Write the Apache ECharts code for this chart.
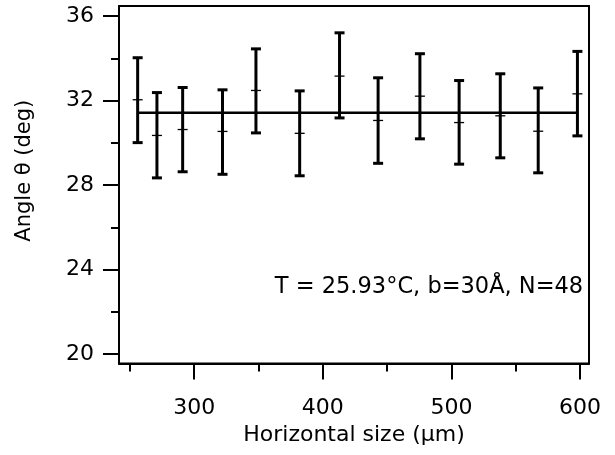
<!DOCTYPE html>
<html>
<head>
<meta charset="utf-8">
<script src="https://cdn.jsdelivr.net/npm/echarts@6/dist/echarts.min.js"></script>
<style>
html,body{margin:0;padding:0;background:#fff;}
#chart{width:615px;height:455px;}
</style>
</head>
<body>
<div id="chart"></div>
<script>
// Data
const sizes   = [256, 271, 291, 322, 348, 382, 413, 443, 475.5, 506, 538, 567.5, 598];
const angles  = [32.04, 30.35, 30.63, 30.54, 32.48, 30.45, 33.16, 31.06, 32.21, 30.96, 31.28, 30.55, 32.32];
const lowErr  = [30.01, 28.34, 28.63, 28.51, 30.47, 28.44, 31.18, 29.03, 30.19, 28.99, 29.29, 28.58, 30.33];
const highErr = [34.03, 32.38, 32.62, 32.51, 34.45, 32.46, 35.21, 33.08, 34.22, 32.95, 33.27, 32.60, 34.33];
const meanAngle = 31.42;
const xMajorTicks = [300, 400, 500, 600];
const xMinorTicks = [250, 350, 450, 550];
const yMajorTicks = [20, 24, 28, 32, 36];
const yMinorTicks = [22, 26, 30, 34];
const annotation = 'T = 25.93°C, b=30Å, N=48';

const FONT = 'DejaVu Sans';
const xMin = 241.5, xMax = 607;
const yMin = 19.55, yMax = 36.48;

const errData = sizes.map((s, i) => [s, angles[i], lowErr[i], highErr[i]]);
const meanData = [[sizes[0], meanAngle], [sizes[sizes.length - 1], meanAngle]];

const chart = echarts.init(document.getElementById('chart'), null, {renderer: 'canvas'});

const baseX = {type: 'value', min: xMin, max: xMax, position: 'bottom', splitLine: {show: false}};
const baseY = {type: 'value', min: yMin, max: yMax, position: 'left', splitLine: {show: false}};

chart.setOption({
  animation: false,
  backgroundColor: '#fff',
  grid: {left: 119, right: 26, top: 6, bottom: 91.5, show: true, borderColor: '#000', borderWidth: 2, backgroundColor: 'transparent'},
  xAxis: [
    Object.assign({}, baseX, {
      axisLine: {show: true, lineStyle: {color: '#000', width: 2}},
      axisTick: {show: true, inside: false, length: 16, customValues: xMajorTicks, lineStyle: {color: '#000', width: 2}},
      axisLabel: {show: true, customValues: xMajorTicks, margin: 34, color: '#000', fontFamily: FONT, fontSize: 22},
      name: 'Horizontal size (μm)', nameLocation: 'middle', nameGap: 58,
      nameTextStyle: {color: '#000', fontFamily: FONT, fontSize: 22}
    }),
    Object.assign({}, baseX, {
      axisLine: {show: false},
      axisTick: {show: true, inside: false, length: 8, customValues: xMinorTicks, lineStyle: {color: '#000', width: 2}},
      axisLabel: {show: false}
    })
  ],
  yAxis: [
    Object.assign({}, baseY, {
      axisLine: {show: true, lineStyle: {color: '#000', width: 2}},
      axisTick: {show: true, inside: false, length: 16, customValues: yMajorTicks, lineStyle: {color: '#000', width: 2}},
      axisLabel: {show: true, customValues: yMajorTicks, margin: 25, color: '#000', fontFamily: FONT, fontSize: 22},
      name: 'Angle θ (deg)', nameLocation: 'middle', nameGap: 84, nameRotate: 90,
      nameTextStyle: {color: '#000', fontFamily: FONT, fontSize: 21, padding: [0, 0, 0, 28]}
    }),
    Object.assign({}, baseY, {
      axisLine: {show: false},
      axisTick: {show: true, inside: false, length: 8, customValues: yMinorTicks, lineStyle: {color: '#000', width: 2}},
      axisLabel: {show: false}
    })
  ],
  series: [
    {
      type: 'line',
      xAxisIndex: 0, yAxisIndex: 0,
      data: meanData,
      symbol: 'none',
      lineStyle: {color: '#000', width: 2.5},
      z: 3
    },
    {
      type: 'custom',
      xAxisIndex: 0, yAxisIndex: 0,
      data: errData,
      encode: {x: 0, y: [1, 2, 3]},
      renderItem: function (params, api) {
        const x = api.value(0);
        const c = api.coord([x, api.value(1)]);
        const lo = api.coord([x, api.value(2)]);
        const hi = api.coord([x, api.value(3)]);
        const capHalf = 5, midHalf = 5;
        const st = {stroke: '#000', lineWidth: 3};
        return {
          type: 'group',
          children: [
            {type: 'line', shape: {x1: hi[0], y1: hi[1], x2: lo[0], y2: lo[1]}, style: st},
            {type: 'line', shape: {x1: hi[0] - capHalf, y1: hi[1], x2: hi[0] + capHalf, y2: hi[1]}, style: st},
            {type: 'line', shape: {x1: lo[0] - capHalf, y1: lo[1], x2: lo[0] + capHalf, y2: lo[1]}, style: st},
            {type: 'line', shape: {x1: c[0] - midHalf, y1: c[1], x2: c[0] + midHalf, y2: c[1]}, style: {stroke: '#000', lineWidth: 1.3}}
          ]
        };
      },
      z: 4
    }
  ],
  graphic: [
    {
      type: 'text',
      x: 429, y: 287,
      style: {text: annotation, fill: '#000', font: '22.5px "' + FONT + '"', align: 'center', verticalAlign: 'middle'}
    }
  ]
});
</script>
</body>
</html>
